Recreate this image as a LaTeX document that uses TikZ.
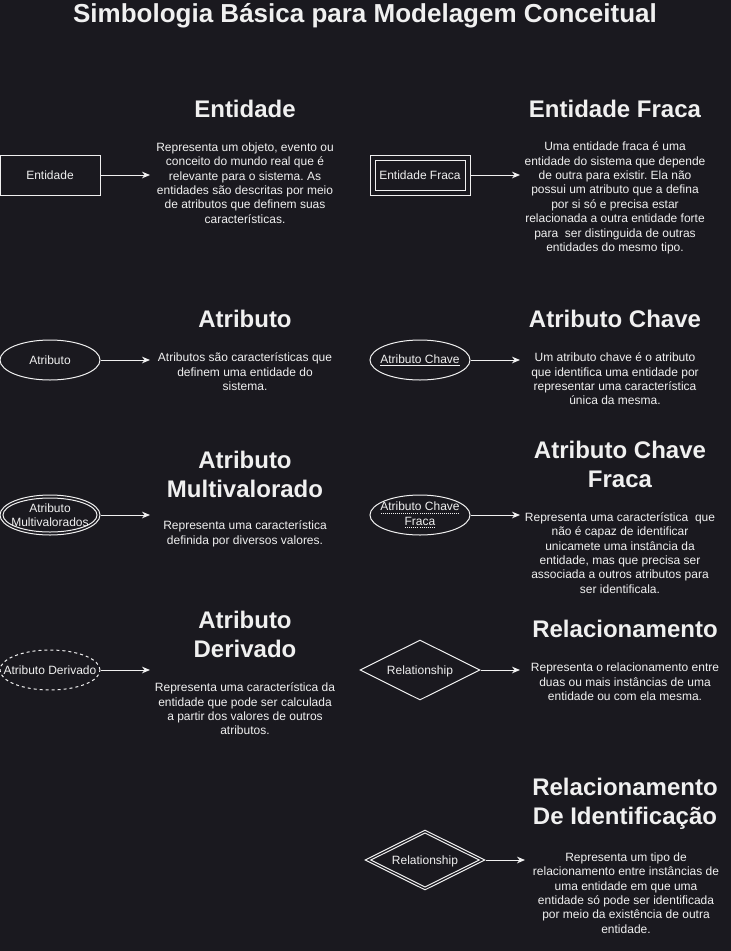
\documentclass[tikz,border=0pt]{standalone}
\usepackage{fontspec}
\setmainfont{Liberation Sans}
\usetikzlibrary{shapes.geometric,arrows.meta}
\definecolor{bg}{HTML}{1A191F}
\definecolor{fg}{HTML}{F0F0F0}
\frenchspacing
\newsavebox{\ulbox}
\newcommand\solidul[1]{\leavevmode\sbox{\ulbox}{#1}\rlap{\raisebox{-1.8pt}{\rule{\wd\ulbox}{0.6pt}}}\usebox{\ulbox}}
\newcommand\dotul[1]{\leavevmode\sbox{\ulbox}{#1}\rlap{\raisebox{-2pt}{\hbox to \wd\ulbox{\xleaders\hbox to 1.5pt{\hss\rule{0.75pt}{0.6pt}\hss}\hfill}}}\usebox{\ulbox}}
\begin{document}
\frenchspacing
\begin{tikzpicture}[x=0.75pt,y=-0.75pt,
  body/.style={text=fg,font=\fontsize{9}{10.8}\selectfont,align=center,inner sep=0},
  head/.style={text=fg,font=\fontsize{18}{21.75}\selectfont\bfseries,align=center,inner sep=0},
  shp/.style={draw=fg,line width=0.75pt,inner sep=0},
  rectbox/.style={shp,rectangle,minimum width=75pt,minimum height=30pt},
  ellbox/.style={shp,ellipse,minimum width=75pt,minimum height=30pt},
  diabox/.style={shp,diamond,shape aspect=2,minimum width=90pt,minimum height=45pt},
  arr/.style={draw=fg,line width=0.75pt,-{Stealth[length=6pt,width=5pt]}}]
\fill[bg] (0,0) rectangle (731,951);
\useasboundingbox (0,0) rectangle (731,951);

\node[head,font=\fontsize{19.5}{23}\selectfont\bfseries] (title) at (365,16) {Simbologia Básica para Modelagem Conceitual};

% Row 1
\node[rectbox] (ent) at (50,175) {};
\node[body] (entt) at (50,175) {Entidade};
\coordinate (a1) at (150,175);
\draw[arr] (ent.east) -- (a1);
\node[head] (enth) at (245,109) {Entidade};
\node[body] (entd) at (245,183) {Representa um objeto, evento ou\\conceito do mundo real que é\\relevante para o sistema. As\\entidades são descritas por meio\\de atributos que definem suas\\características.};

\node[rectbox] (ef) at (420,175) {};
\node[shp,rectangle,minimum width=67.5pt,minimum height=22.5pt] (efi) at (420,175) {};
\node[body] (eft) at (420,175) {Entidade Fraca};
\coordinate (a2) at (520,175);
\draw[arr] (ef.east) -- (a2);
\node[head] (efh) at (615,109) {Entidade Fraca};
\node[body] (efd) at (615,198) {Uma entidade fraca é uma\\entidade do sistema que depende\\de outra para existir. Ela não\\possui um atributo que a defina\\por si só e precisa estar\\relacionada a outra entidade forte\\para\ \ ser distinguida de outras\\entidades do mesmo tipo.};

% Row 2
\node[ellbox] (at) at (50,360) {};
\node[body] (att) at (50,360) {Atributo};
\coordinate (a3) at (150,360);
\draw[arr] (at.east) -- (a3);
\node[head] (ath) at (245,319) {Atributo};
\node[body] (atd) at (245,372) {Atributos são características que\\definem uma entidade do\\sistema.};

\node[ellbox] (ak) at (420,360) {};
\node[body] (akt) at (420,360) {\solidul{Atributo Chave}};
\coordinate (a4) at (520,360);
\draw[arr] (ak.east) -- (a4);
\node[head] (akh) at (615,319) {Atributo Chave};
\node[body] (akd) at (615,379) {Um atributo chave é o atributo\\que identifica uma entidade por\\representar uma característica\\única da mesma.};

% Row 3
\node[ellbox] (mv) at (50,515) {};
\node[shp,ellipse,minimum width=70.5pt,minimum height=25.5pt] (mvi) at (50,515) {};
\node[body] (mvt) at (50,515) {Atributo\\Multivalorados};
\coordinate (a5) at (150,515);
\draw[arr] (mv.east) -- (a5);
\node[head] (mvh) at (245,474) {Atributo\\Multivalorado};
\node[body] (mvd) at (245,534) {Representa uma característica\\definida por diversos valores.};

\node[ellbox] (kf) at (420,515) {};
\node[body] (kft) at (420,515) {\dotul{Atributo Chave}\\\dotul{Fraca}};
\coordinate (a6) at (520,515);
\draw[arr] (kf.east) -- (a6);
\node[head] (kfh) at (620,464) {Atributo Chave\\Fraca};
\node[body] (kfd) at (620,553) {Representa uma característica\ \ que\\não é capaz de identificar\\unicamete uma instância da\\entidade, mas que precisa ser\\associada a outros atributos para\\ser identificala.};

% Row 4
\node[ellbox,dash pattern=on 2.25pt off 2.25pt] (dv) at (50,670) {};
\node[body] (dvt) at (50,670) {Atributo Derivado};
\coordinate (a7) at (150,670);
\draw[arr] (dv.east) -- (a7);
\node[head] (dvh) at (245,634) {Atributo\\Derivado};
\node[body] (dvd) at (245,709) {Representa uma característica da\\entidade que pode ser calculada\\a partir dos valores de outros\\atributos.};

\node[diabox] (rl) at (420,670) {};
\node[body] (rlt) at (420,671) {Relationship};
\coordinate (a8) at (520,670);
\draw[arr] (rl.east) -- (a8);
\node[head] (rlh) at (625,629) {Relacionamento};
\node[body] (rld) at (625,682) {Representa o relacionamento entre\\duas ou mais instâncias de uma\\entidade ou com ela mesma.};

% Row 5
\node[diabox] (ri) at (425,860) {};
\node[shp,diamond,shape aspect=2,minimum width=81.6pt,minimum height=40.8pt] (rii) at (425,860) {};
\node[body] (rit) at (425,861) {Relationship};
\coordinate (a9) at (525,860);
\draw[arr] (ri.east) -- (a9);
\node[head] (rih) at (625,804) {Relacionamento\\De Identificação};
\node[body] (rid) at (626,893) {Representa um tipo de\\relacionamento entre instâncias de\\uma entidade em que uma\\entidade só pode ser identificada\\por meio da existência de outra\\entidade.};
\end{tikzpicture}
\end{document}
